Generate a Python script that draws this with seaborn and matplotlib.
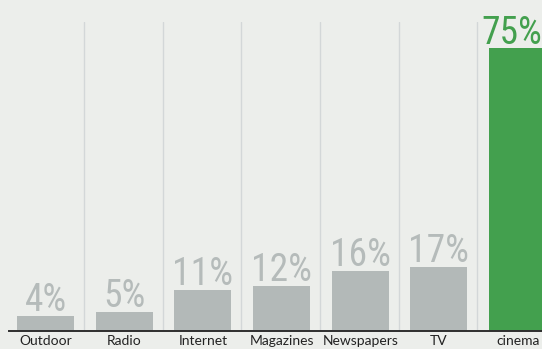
import matplotlib
matplotlib.use("Agg")
import matplotlib.pyplot as plt
from matplotlib import font_manager
import seaborn as sns
import pandas as pd

categories = ["Outdoor", "Radio", "Internet", "Magazines", "Newspapers", "TV", "cinema"]
values = [4, 5, 11, 12, 16, 17, 75]
labels = ["4%", "5%", "11%", "12%", "16%", "17%", "75%"]
highlight = ["no", "no", "no", "no", "no", "no", "yes"]

BG = "#eceeeb"
GRAY = "#b3b9b8"
GREEN = "#43a04e"

names = {f.name for f in font_manager.fontManager.ttflist}
narrow = "DejaVu Sans"
for cand in ["Liberation Sans Narrow", "DejaVu Sans Condensed", "Roboto Condensed", "Open Sans Condensed"]:
    if cand in names:
        narrow = cand
        break

sns.set_theme(style="white")
plt.rcParams["font.family"] = ["Lato", "DejaVu Sans"]

df = pd.DataFrame({"category": categories, "value": values, "hl": highlight})

fig = plt.figure(figsize=(5.42, 3.49), dpi=100, facecolor=BG)
ax = fig.add_axes([9 / 542, 18 / 349, 533 / 542, 309 / 349])
ax.set_facecolor(BG)

sns.barplot(data=df, x="category", y="value", hue="hl", palette={"no": GRAY, "yes": GREEN},
            width=0.725, dodge=False, legend=False, ax=ax, saturation=1, linewidth=0)

ax.set_xlim(-0.464, 6.31)
ax.set_ylim(0, 82)

for i in range(len(categories) - 1):
    ax.axvline(i + 0.49, color="#d3d7d8", lw=1.0, zorder=0)

last = len(values) - 1
for i, (v, lab, h) in enumerate(zip(values, labels, highlight)):
    dx = -4.5 if i == last else 0
    ax.annotate(lab, (i, v), xytext=(dx, 3.5), textcoords="offset points", ha="center", va="baseline",
                fontsize=27, color=GREEN if h == "yes" else "#b5bbba", family=narrow,
                annotation_clip=False)

for s in ["top", "right", "left"]:
    ax.spines[s].set_visible(False)
ax.spines["bottom"].set_color("#2e2e2e")
ax.spines["bottom"].set_linewidth(1.4)
ax.spines["bottom"].set_zorder(5)
ax.set_yticks([])
ax.set_xlabel("")
ax.set_ylabel("")
ax.tick_params(axis="x", length=0, pad=3, labelsize=10, labelcolor="#222222")

fig.savefig("out.png", dpi=100, facecolor=BG)
